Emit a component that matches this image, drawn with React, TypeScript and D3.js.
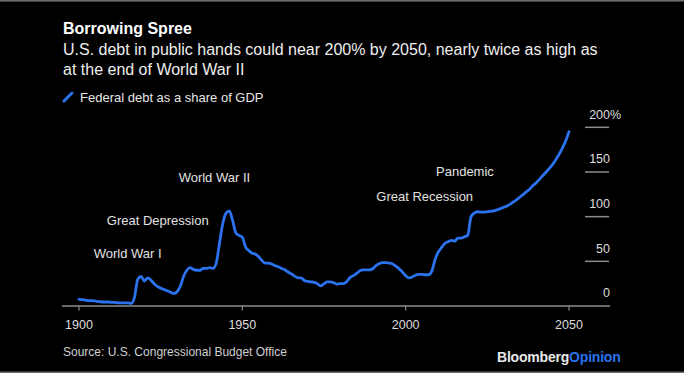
import React from "react";
import * as d3 from "d3";

const W = 684;
const H = 373;

const years: number[] = d3.range(1900, 2051);
const debtShare: number[] = [
  // 1900-1909
  7.5, 7, 6.5, 6, 6, 5.5, 5, 4.5, 4.5, 4.5,
  // 1910-1919
  4, 4, 3.5, 3.5, 3.5, 3.5, 3, 10, 30, 33,
  // 1920-1929
  28, 31.5, 29, 25, 22, 20, 18.5, 17, 15.5, 14,
  // 1930-1939
  16, 22, 33, 40, 43, 41, 40, 40, 42, 42,
  // 1940-1949
  43, 42, 48, 70, 92, 104, 106.5, 96, 82, 79,
  // 1950-1959
  77, 66, 62, 59, 58, 55, 51, 48, 48, 47,
  // 1960-1969
  45, 44, 42, 40.5, 38, 36, 33.5, 31.5, 31.5, 28.5,
  // 1970-1979
  27.5, 27, 26.5, 25, 22.5, 25, 27, 27, 26, 24.5,
  // 1980-1989
  25, 25, 27.5, 32, 34, 36.5, 39.5, 40.5, 40.5, 40.5,
  // 1990-1999
  42, 45.5, 47.5, 48.5, 48.5, 48, 47, 44.5, 41.5, 38,
  // 2000-2009
  34, 31.5, 32.5, 34.5, 35.5, 35.5, 35, 35, 39, 52,
  // 2010-2019
  60.5, 65.5, 70, 72, 73.5, 72.5, 76, 76, 77.5, 79,
  // 2020-2029
  100, 104, 105.5, 105, 105, 105.5, 106, 106.5, 107.5, 109,
  // 2030-2039
  110.5, 112, 114, 116.5, 119, 122, 125, 128, 131, 135,
  // 2040-2049
  138, 142, 146, 150, 154, 158.5, 164, 170, 177, 185,
  // 2050
  195,
];

const xTicks: number[] = [1900, 1950, 2000, 2050];
const yTicks: number[] = [0, 50, 100, 150, 200];

const annotations: { label: string; year: number; value: number }[] = [
  { label: "World War I", year: 1904.5, value: 54 },
  { label: "Great Depression", year: 1908.5, value: 91 },
  { label: "World War II", year: 1930.5, value: 139 },
  { label: "Great Recession", year: 1991, value: 117 },
  { label: "Pandemic", year: 2009.3, value: 145 },
];

const titleText = "Borrowing Spree";
const subtitleLines = [
  "U.S. debt in public hands could near 200% by 2050, nearly twice as high as",
  "at the end of World War II",
];
const legendText = "Federal debt as a share of GDP";
const sourceText = "Source: U.S. Congressional Budget Office";

const BLUE = "#2a72ee";
const FONT = "'Liberation Sans', Arial, Helvetica, sans-serif";

export default function App() {
  const x = d3.scaleLinear().domain([1900, 2050]).range([79, 569]);
  const y = d3.scaleLinear().domain([0, 200]).range([306, 127.3]);

  const data = years.map((yr, i) => ({ yr, v: debtShare[i] }));
  const line = d3
    .line<{ yr: number; v: number }>()
    .x((d) => x(d.yr))
    .y((d) => y(d.v))
    .curve(d3.curveMonotoneX);

  return (
    <svg
      width={W}
      height={H}
      viewBox={`0 0 ${W} ${H}`}
      style={{ position: "absolute", left: 0, top: 0, display: "block" }}
      fontFamily={FONT}
    >
      <rect x={0} y={0} width={W} height={H} fill="#000" />
      <rect x={0} y={0} width={W} height={1.6} fill="#6a6a6a" />
      <rect x={0} y={H - 1.5} width={W} height={1.5} fill="#6a6a6a" />

      {/* Title block */}
      <text x={63} y={34} fill="#ffffff" fontSize={16} fontWeight="bold">
        {titleText}
      </text>
      {subtitleLines.map((s, i) => (
        <text key={i} x={63} y={55 + i * 19.5} fill="#eeeeee" fontSize={16}>
          {s}
        </text>
      ))}

      {/* Legend */}
      <line x1={64} y1={101} x2={72} y2={93} stroke={BLUE} strokeWidth={3} strokeLinecap="round" />
      <text x={80} y={102} fill="#e6e6e6" fontSize={13}>
        {legendText}
      </text>

      {/* Y ticks (right side) */}
      {yTicks.map((t) => (
        <g key={t}>
          {t !== 0 && (
            <line x1={585} x2={609} y1={y(t)} y2={y(t)} stroke="#8c8c8c" strokeWidth={1.5} />
          )}
          <text x={610} y={y(t) - 8.7} fill="#dddddd" fontSize={12.5} textAnchor="end">
            {t}
          </text>
          {t === 200 && (
            <text x={610} y={y(t) - 8.7} fill="#dddddd" fontSize={12.5} textAnchor="start">
              %
            </text>
          )}
        </g>
      ))}

      {/* X axis */}
      <line x1={62} x2={610} y1={y(0)} y2={y(0)} stroke="#8c8c8c" strokeWidth={1.5} />
      {xTicks.map((t) => (
        <g key={t}>
          <line x1={x(t)} x2={x(t)} y1={y(0)} y2={y(0) + 4.5} stroke="#8c8c8c" strokeWidth={1.2} />
          <text x={x(t)} y={329} fill="#dddddd" fontSize={12.5} textAnchor="middle">
            {t}
          </text>
        </g>
      ))}

      {/* Annotations */}
      {annotations.map((a) => (
        <text key={a.label} x={x(a.year)} y={y(a.value)} fill="#e2e2e2" fontSize={13}>
          {a.label}
        </text>
      ))}

      {/* Data line */}
      <path d={line(data) || ""} fill="none" stroke={BLUE} strokeWidth={2.8} strokeLinejoin="round" strokeLinecap="round" />

      {/* Footer */}
      <text x={63} y={356} fill="#d0d0d0" fontSize={12}>
        {sourceText}
      </text>
      <text x={497} y={362} fontSize={14} fontWeight="bold" letterSpacing={-0.2}>
        <tspan fill="#e8e8e8">Bloomberg</tspan>
        <tspan fill={BLUE}>Opinion</tspan>
      </text>
    </svg>
  );
}
